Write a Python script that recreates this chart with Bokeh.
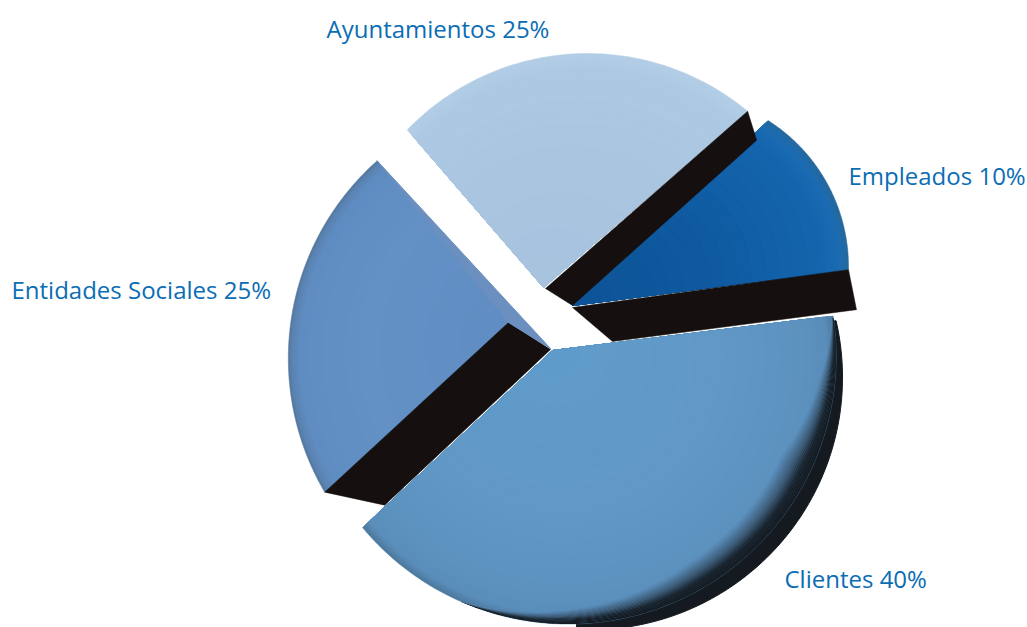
import numpy as np
from bokeh.plotting import figure
from bokeh.core.properties import value
from bokeh.embed import file_html
from bokeh.resources import INLINE

# ---- data ----
names = ["Empleados", "Ayuntamientos", "Entidades Sociales", "Clientes"]
shares = [10, 25, 25, 40]
label_colour = "#0b6db4"

# ---- exploded-pie shape, per slice (page pixel coordinates) ----
W, H = 1027, 627
start_deg = [7.4, 40.8, 129.3, 223.0]
apex = [(572, 305), (543, 287), (518, 333), (552, 350)]
rim_pts = [
    [(775, 125), (825, 180), (848, 268)],
    [(408, 128), (590, 53), (745, 109)],
    [(377, 160), (288, 368), (325, 493)],
    [(833, 318), (703, 587), (362, 527)],
]
face_stops = [
    [(0.0, "#0d5295"), (0.55, "#0f5aa0"), (0.9, "#1465ad"), (0.97, "#1c6cb3"), (1.0, "#26699f")],
    [(0.0, "#a6c2de"), (0.7, "#abc6e0"), (0.93, "#adc9e3"), (1.0, "#b3cee6")],
    [(0.0, "#5f8cc2"), (0.7, "#6391c6"), (0.95, "#5f8dc2"), (0.99, "#5a82b0"), (1.0, "#55789f")],
    [(0.0, "#5f9ccb"), (0.6, "#6198c6"), (0.88, "#5d92bf"), (0.97, "#5a8dba"), (1.0, "#4d7a9e")],
]
side_apex = [(572, 307), (545, 288), (508, 322), None]
side_edge = ["start", "start", "end", None]
d_rim = [(8, 40), (9, 29), (60, 13), None]
d_apex = [(40, 34), (27, 17), (42, 27), None]
shade_angle = [-110, -85, -57, -25, -6, 6]
shade_width = [0, 15, 28, 32, 15, 2]
shade_stops = [(0.0, "#141a20"), (0.3, "#18222c"), (0.6, "#3c5a75"), (1.0, "#5a8db9")]


def circle_through(a, b, c):
    A = np.array([[b[0] - a[0], b[1] - a[1]], [c[0] - a[0], c[1] - a[1]]], float) * 2
    B = np.array([b[0]**2 + b[1]**2 - a[0]**2 - a[1]**2,
                  c[0]**2 + c[1]**2 - a[0]**2 - a[1]**2], float)
    cx, cy = np.linalg.solve(A, B)
    return cx, cy, float(np.hypot(a[0] - cx, a[1] - cy))


def ray_radius(ap, circ, theta):
    # distance along a ray from the apex to the circle (y runs downwards on the page)
    dx, dy = np.cos(theta), -np.sin(theta)
    fx, fy = ap[0] - circ[0], ap[1] - circ[1]
    b = fx * dx + fy * dy
    c = fx**2 + fy**2 - circ[2]**2
    return -b + np.sqrt(np.maximum(b * b - c, 0))


def arc(ap, circ, a0, a1, t=1.0, n=90):
    th = np.radians(np.linspace(a0, a1, n))
    r = ray_radius(ap, circ, th) * t
    return ap[0] + r * np.cos(th), ap[1] - r * np.sin(th)


def mix(stops, t):
    ts = [s[0] for s in stops]
    rgb = [[int(s[1][i:i + 2], 16) for s in stops] for i in (1, 3, 5)]
    return "#%02x%02x%02x" % tuple(int(round(np.interp(t, ts, ch))) for ch in rgb)


p = figure(width=W, height=H, x_range=(0, W), y_range=(H, 0),
           output_backend="svg", toolbar_location=None, min_border=0,
           background_fill_color="white", border_fill_color="white",
           outline_line_color=None)
p.axis.visible = False
p.grid.visible = False


def draw_slice(i):
    a0 = start_deg[i]
    a1 = a0 + shares[i] * 3.6
    circ = circle_through(*rim_pts[i])
    for t in np.r_[np.linspace(1.0, 0.88, 16), np.linspace(0.85, 0.1, 16)]:
        x, y = arc(apex[i], circ, a0, a1, t)
        col = mix(face_stops[i], t)
        p.patch(np.r_[apex[i][0], x], np.r_[apex[i][1], y],
                fill_color=col, line_color=col, line_width=0.5)
    if side_apex[i] is not None:
        ang = a0 if side_edge[i] == "start" else a1
        x, y = arc(apex[i], circ, ang, ang, 1.0, 1)
        rx, ry = x[0], y[0]
        sa = side_apex[i]
        p.patch([sa[0], rx, rx + d_rim[i][0], sa[0] + d_apex[i][0]],
                [sa[1], ry, ry + d_rim[i][1], sa[1] + d_apex[i][1]],
                fill_color="#15100f", line_color="#15100f", line_width=0.5)


def draw_rim_shade(i, steps=16):
    # soft darkening just inside the lower right of the rim, as thin rings
    circ = circle_through(*rim_pts[i])
    deg = np.linspace(-110, 6.5, 140)
    th = np.radians(deg)
    r = ray_radius(apex[i], circ, th)
    w = np.interp(deg, shade_angle, shade_width)
    for k in range(steps):
        s0, s1 = k / steps, (k + 1) / steps
        r0, r1 = r - w * s0, r - w * s1 - 0.3
        xs = np.r_[apex[i][0] + r0 * np.cos(th), (apex[i][0] + r1 * np.cos(th))[::-1]]
        ys = np.r_[apex[i][1] - r0 * np.sin(th), (apex[i][1] - r1 * np.sin(th))[::-1]]
        col = mix(shade_stops, (s0 + s1) / 2)
        p.patch(xs, ys, fill_color=col, line_color=None)


# Entidades Sociales: face, then the pale bevel along its upper edge
draw_slice(2)
x0, y0 = arc(apex[2], circle_through(*rim_pts[2]), start_deg[2], start_deg[2], 1.0, 1)
p.patch([x0[0], 550, 508], [y0[0], 348, 322], fill_color="#6b90bf", line_color="#6b90bf")

# Clientes: dark rim behind, then the face and its shaded edge
outer = circle_through((842, 380), (820, 480), (720, 593))
ox, oy = arc(apex[3], outer, -85, 6)
p.patch(np.r_[apex[3][0], ox], np.r_[apex[3][1], oy], fill_color="#141a20", line_color="#141a20")
draw_slice(3)
draw_rim_shade(3)

draw_slice(0)
draw_slice(1)

# ---- labels ----
p.text(x=[848, 326, 11, 784], y=[175, 28, 289, 578],
       text=[f"{n} {v}%" for n, v in zip(names, shares)],
       text_font=value("Open Sans"), text_font_size="24px",
       text_color=label_colour, text_align="left", text_baseline="alphabetic")

open("out.html", "w").write(file_html(p, INLINE))
